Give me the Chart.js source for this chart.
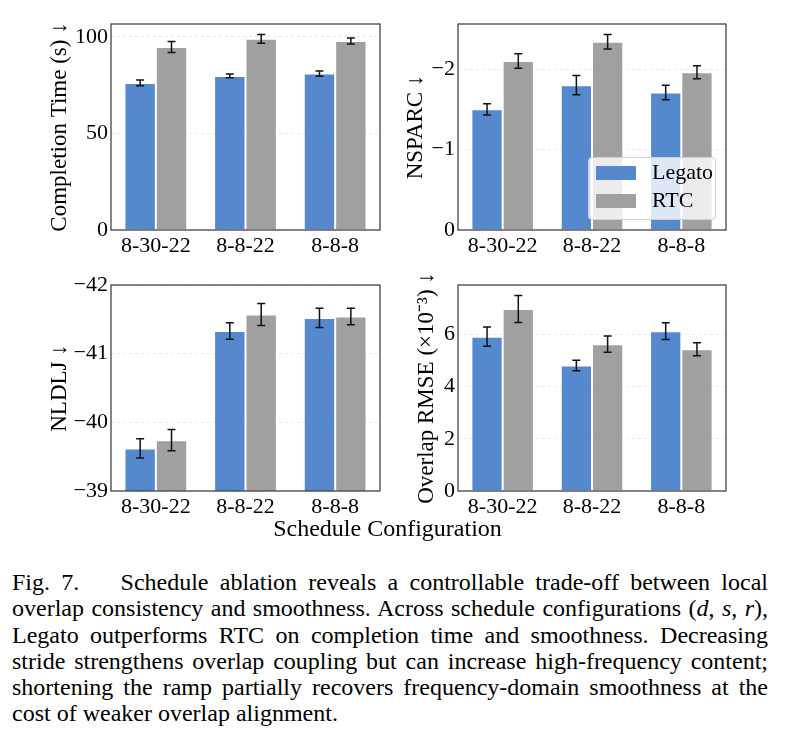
<!DOCTYPE html>
<html lang="en">
<head>
  <meta charset="UTF-8" />
  <title>Schedule ablation</title>
  <script src="https://cdn.jsdelivr.net/npm/chart.js"></script>
  <style>
    body { margin: 0; background: #fff; }
    #wrap { position: relative; width: 785px; height: 750px; font-family: 'Liberation Serif', 'Times New Roman', serif; color: #000; }
    canvas { position: absolute; }
    .legend { position: absolute; left: 588px; top: 157px; width: 126px; height: 61px; background: rgba(255,255,255,0.8); border: 1px solid #d0d0d0; border-radius: 4px; font-size: 22px; }
    .legend .item { position: absolute; left: 7px; height: 14px; }
    .legend .sw { position: absolute; left: 0; top: 0; width: 40px; height: 14px; }
    .legend .lb { position: absolute; left: 56px; top: -7px; line-height: 26px; white-space: nowrap; }
    .xtitle { position: absolute; left: 0; width: 775px; top: 514px; text-align: center; font-size: 24px; line-height: 28px; }
    .caption { position: absolute; left: 12px; width: 756px; top: 569px; font-size: 24px; line-height: 26.3px; text-align: justify; }
    .caption .gap { display: inline-block; width: 30px; }
  </style>
</head>
<body>
  <div id="wrap">
    <canvas id="c1" width="390" height="260" style="left:0;top:0"></canvas>
    <canvas id="c2" width="395" height="260" style="left:390px;top:0"></canvas>
    <canvas id="c3" width="390" height="260" style="left:0;top:260px"></canvas>
    <canvas id="c4" width="395" height="260" style="left:390px;top:260px"></canvas>
    <div class="legend">
      <div class="item" style="top:8px"><div class="sw" style="background:#5588cc"></div><div class="lb">Legato</div></div>
      <div class="item" style="top:36px"><div class="sw" style="background:#a0a0a0"></div><div class="lb">RTC</div></div>
    </div>
    <div class="xtitle">Schedule Configuration</div>
    <div class="caption">Fig. 7.<span class="gap"></span> Schedule ablation reveals a controllable trade-off between local overlap consistency and smoothness. Across schedule configurations (<i>d</i>, <i>s</i>, <i>r</i>), Legato outperforms RTC on completion time and smoothness. Decreasing stride strengthens overlap coupling but can increase high-frequency content; shortening the ramp partially recovers frequency-domain smoothness at the cost of weaker overlap alignment.</div>
  </div>

  <script>
    // schedule configurations (d-s-r)
    const configs = ['8-30-22', '8-8-22', '8-8-8'];

    // completion time (s)
    const timeLegato = [76.2, 79.8, 81.0];
    const timeLegatoErr = [1.5, 1.0, 1.4];
    const timeRtc = [94.8, 99.0, 97.9];
    const timeRtcErr = [2.9, 2.3, 1.5];

    // NSPARC
    const nsparcLegato = [-1.50, -1.80, -1.71];
    const nsparcLegatoErr = [0.07, 0.12, 0.09];
    const nsparcRtc = [-2.10, -2.34, -1.96];
    const nsparcRtcErr = [0.09, 0.09, 0.08];

    // NLDLJ
    const nldljLegato = [-39.62, -41.33, -41.52];
    const nldljLegatoErr = [0.14, 0.12, 0.14];
    const nldljRtc = [-39.74, -41.57, -41.54];
    const nldljRtcErr = [0.155, 0.16, 0.12];

    // overlap RMSE (x1e-3)
    const rmseLegato = [5.92, 4.81, 6.13];
    const rmseLegatoErr = [0.37, 0.20, 0.32];
    const rmseRtc = [6.98, 5.63, 5.44];
    const rmseRtcErr = [0.52, 0.31, 0.25];

    const legatoColor = '#5588cc';
    const rtcColor = '#a0a0a0';

    Chart.defaults.font.family = "'Liberation Serif', 'Times New Roman', serif";
    Chart.defaults.font.size = 22;
    Chart.defaults.color = '#000';

    // error bars + full frame round the plot area
    const extras = {
      id: 'extras',
      afterDatasetsDraw(chart, args, opts) {
        const ctx = chart.ctx;
        const y = chart.scales.y;
        ctx.save();
        ctx.strokeStyle = '#111';
        ctx.lineWidth = 1.5;
        chart.data.datasets.forEach((ds, i) => {
          const meta = chart.getDatasetMeta(i);
          meta.data.forEach((bar, j) => {
            const v = ds.data[j], e = opts.errors[i][j];
            const y1 = y.getPixelForValue(v - e);
            const y2 = y.getPixelForValue(v + e);
            ctx.beginPath();
            ctx.moveTo(bar.x, y1); ctx.lineTo(bar.x, y2);
            ctx.moveTo(bar.x - 4, y1); ctx.lineTo(bar.x + 4, y1);
            ctx.moveTo(bar.x - 4, y2); ctx.lineTo(bar.x + 4, y2);
            ctx.stroke();
          });
        });
        const a = chart.chartArea;
        ctx.strokeStyle = '#444';
        ctx.lineWidth = 1.3;
        ctx.strokeRect(a.left, a.top, a.right - a.left, a.bottom - a.top);
        ctx.restore();
      }
    };

    const minus = v => (v < 0 ? '\u2212' + Math.abs(v) : '' + v);

    function makeChart(id, legato, rtc, errs, yopt) {
      new Chart(document.getElementById(id), {
        type: 'bar',
        data: {
          labels: configs,
          datasets: [
            { label: 'Legato', data: legato, backgroundColor: legatoColor, borderColor: 'rgba(255,255,255,0.5)', borderWidth: 1 },
            { label: 'RTC', data: rtc, backgroundColor: rtcColor, borderColor: 'rgba(255,255,255,0.5)', borderWidth: 1 }
          ]
        },
        options: {
          responsive: false,
          animation: false,
          layout: { padding: { left: 0, top: yopt.top, right: yopt.right, bottom: 0 } },
          datasets: { bar: { categoryPercentage: 0.7, barPercentage: 1.0 } },
          plugins: {
            legend: { display: false },
            tooltip: { enabled: false },
            extras: { errors: errs }
          },
          scales: {
            x: {
              grid: { display: false, drawTicks: false },
              border: { display: false },
              ticks: { padding: 3, maxRotation: 0 },
              afterFit: s => { s.height = yopt.xh; }
            },
            y: {
              min: yopt.min,
              max: yopt.max,
              reverse: !!yopt.reverse,
              grid: { color: '#e4e4e4', lineWidth: 0.8, drawTicks: false },
              border: { display: false, dash: [3, 3] },
              ticks: { stepSize: yopt.step, padding: 3, includeBounds: false, callback: minus },
              title: { display: true, text: yopt.title, font: { size: 23 }, padding: { top: yopt.tpad, bottom: 0 } },
              afterFit: s => { s.width = yopt.yw; }
            }
          }
        },
        plugins: [extras]
      });
    }

    makeChart('c1', timeLegato, timeRtc, [timeLegatoErr, timeRtcErr],
      { min: 0, max: 106.7, step: 50, title: 'Completion Time (s) \u2193', top: 24, right: 10, xh: 30, yw: 111, tpad: 46 });
    makeChart('c2', nsparcLegato, nsparcRtc, [nsparcLegatoErr, nsparcRtcErr],
      { min: -2.56, max: 0, step: 1, reverse: true, title: 'NSPARC \u2193', top: 24, right: 59, xh: 30, yw: 68, tpad: 12 });
    makeChart('c3', nldljLegato, nldljRtc, [nldljLegatoErr, nldljRtcErr],
      { min: -42, max: -39, step: 1, reverse: true, title: 'NLDLJ \u2193', top: 25, right: 10, xh: 29, yw: 111, tpad: 46 });
    makeChart('c4', rmseLegato, rmseRtc, [rmseLegatoErr, rmseRtcErr],
      { min: 0, max: 7.9, step: 2, title: 'Overlap RMSE (\u00d710\u207b\u00b3) \u2193', top: 25, right: 59, xh: 29, yw: 68, tpad: 23 });
  </script>
</body>
</html>
